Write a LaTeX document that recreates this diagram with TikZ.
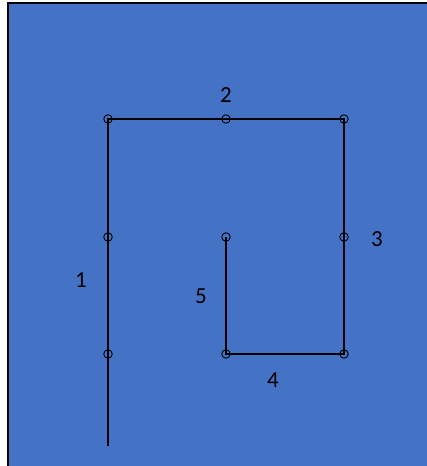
\documentclass[tikz,border=0pt]{standalone}
\usepackage{fontspec}
\setmainfont{Carlito}
\definecolor{bgblue}{HTML}{4472C4}
\tikzset{
  pt/.style={circle,draw=black,line width=0.9pt,minimum size=8.5pt,inner sep=0pt},
  path/.style={draw=black,line width=1.2pt},
  lbl/.style={font=\fontsize{23}{26}\selectfont,text=black,inner sep=0pt}
}
\begin{document}
\begin{tikzpicture}[x=1pt,y=-1pt]
\useasboundingbox (0,0) rectangle (427,466);
\fill[white] (0,0) rectangle (427,466);
\fill[bgblue] (8,3) rectangle (427,466);
\draw[black,line width=1.2pt] (8,466) -- (8,3) -- (427,3);
\coordinate (s) at (108,446);
\node[pt] (p1) at (108,354) {};
\node[pt] (p2) at (108,237) {};
\node[pt] (p3) at (108,119) {};
\node[pt] (p4) at (226,119) {};
\node[pt] (p5) at (344,119) {};
\node[pt] (p6) at (344,237) {};
\node[pt] (p7) at (344,354) {};
\node[pt] (p8) at (226,354) {};
\node[pt] (p9) at (226,237) {};
\draw[path] (s) -- (p1.center) -- (p2.center) -- (p3.center) -- (p4.center)
  -- (p5.center) -- (p6.center) -- (p7.center) -- (p8.center) -- (p9.center);
\node[lbl] (l1) at (81,280) {1};
\node[lbl] (l2) at (226,95) {2};
\node[lbl] (l3) at (377,239) {3};
\node[lbl] (l4) at (273,380) {4};
\node[lbl] (l5) at (201,296) {5};
\end{tikzpicture}
\end{document}
